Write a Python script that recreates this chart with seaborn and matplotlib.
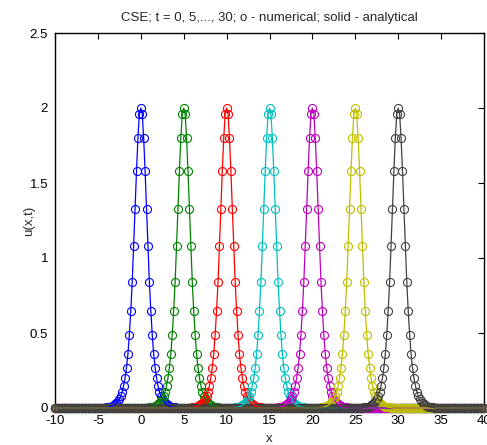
import numpy as np
import pandas as pd
import matplotlib
matplotlib.use("Agg")
import matplotlib.pyplot as plt
import seaborn as sns

# soliton centres for t = 0, 5, ..., 30
centers = [0, 5, 10, 15, 20, 25, 30]
colors = ["#0000ff", "#008000", "#ff0000", "#00bfbf", "#bf00bf", "#bfbf00", "#404040"]

# grid of the solver and profile (u at |x - c| = k*dx)
x_min, x_max, dx = -10, 40, 1 / 6
profile = [2.0, 1.96, 1.80, 1.58, 1.33, 1.08, 0.84, 0.65, 0.49, 0.36,
           0.27, 0.20, 0.15, 0.11, 0.08, 0.06, 0.045, 0.033, 0.024, 0.018,
           0.013, 0.01, 0.007, 0.005, 0.004, 0.003]

sns.set_theme(style="white")
plt.rcParams["font.family"] = ["Liberation Sans", "DejaVu Sans"]
plt.rcParams["axes.unicode_minus"] = False

x = np.linspace(x_min, x_max, int(round((x_max - x_min) / dx)) + 1)
frames = []
for t, c in zip(centers, centers):
    k = np.abs(np.round((x - c) / dx)).astype(int)
    u = np.array([profile[i] if i < len(profile) else 0.0 for i in k])
    frames.append(pd.DataFrame({"x": x, "u": u, "t": t}))
df = pd.concat(frames, ignore_index=True)

fig = plt.figure(figsize=(4.87, 4.45), dpi=100)
ax = fig.add_axes([55 / 487, 1 - 408 / 445, 429 / 487, 375 / 445])

# numerical: open circles
for t, col in zip(centers, colors):
    d = df[df["t"] == t]
    sns.lineplot(data=d, x="x", y="u", ax=ax, color=col, linestyle="none",
                 marker="o", markersize=5.8, mfc="none", mec=col, mew=0.8,
                 clip_on=False, legend=False, zorder=3)
# analytical: solid lines
for t, col in zip(centers, colors):
    d = df[df["t"] == t]
    sns.lineplot(data=d, x="x", y="u", ax=ax, color=col, linewidth=0.9,
                 clip_on=False, legend=False, zorder=4)

ax.set_xlim(-10, 40)
ax.set_ylim(0, 2.5)
ax.set_xticks(np.arange(-10, 41, 5))
ax.set_yticks(np.arange(0, 2.51, 0.5))
ax.set_yticklabels(["0", "0.5", "1", "1.5", "2", "2.5"])
ax.tick_params(direction="in", length=4, width=0.8, top=True, right=True,
               labelsize=9.5, colors="black", pad=5)
for s in ax.spines.values():
    s.set_color("black")
    s.set_linewidth(1)
ax.set_xlabel("x", fontsize=9.5, labelpad=4)
ax.set_ylabel("u(x,t)", fontsize=9.5, labelpad=-4)
ax.set_title("CSE; t = 0, 5,..., 30; o - numerical; solid - analytical",
             fontsize=9.5, pad=9)

fig.savefig("out.png", dpi=100)
